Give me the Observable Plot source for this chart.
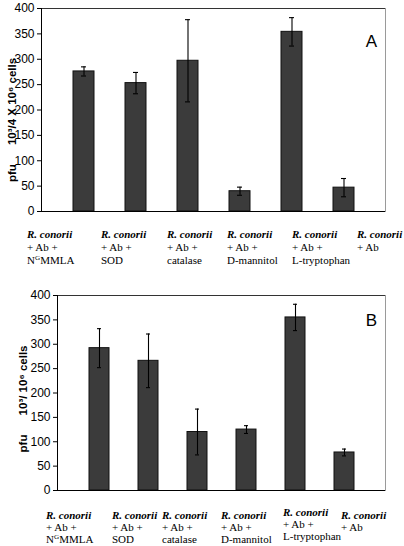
<!DOCTYPE html>
<html>
<head>
<meta charset="utf-8">
<script src="https://cdn.jsdelivr.net/npm/d3@7"></script>
<script src="https://cdn.jsdelivr.net/npm/@observablehq/plot@0.6"></script>
<style>
  html, body { margin: 0; padding: 0; background: #fff; }
  #root { width: 404px; position: relative; }
  .labels { position: relative; width: 404px; font-family: "Liberation Serif", "Times New Roman", serif; color: #000; }
  .lab { position: absolute; top: 0; white-space: nowrap; }
  .lab b { font-weight: bold; font-style: italic; }
  .lab sup { font-size: 0.65em; vertical-align: 0.55em; line-height: 0; }
  svg { display: block; }
</style>
</head>
<body>
<div id="root"></div>
<script>
// ---- data ----
const categories = ["NGMMLA", "SOD", "catalase", "D-mannitol", "L-tryptophan", "Ab only"];
const valuesA = [276, 253, 297, 40, 354, 47];
const errorsA = [9, 21, 81, 8, 28, 18];
const valuesB = [292, 266, 120, 125, 355, 78];
const errorsB = [40, 55, 47, 8, 27, 7];
const yTicks = [0, 50, 100, 150, 200, 250, 300, 350, 400];
const labelLine1 = "R. conorii";
const labelLine2 = ["+ Ab +", "+ Ab +", "+ Ab +", "+ Ab +", "+ Ab +", "+ Ab"];
const labelLine3 = ["N<sup>G</sup>MMLA", "SOD", "catalase", "D-mannitol", "L-tryptophan", ""];
const yLabelA = "pfu      10³/4 X 10⁶ cells";
const yLabelB = "pfu      10³/ 10⁶ cells";
const panelA = "A";
const panelB = "B";

// ---- layout (positions/styles only) ----
const panels = [
  {values: valuesA, errors: errorsA, ylab: yLabelA, tag: panelA, marginLeft: 41, marginTop: 8, height: 219,
   labDy: 10, labDx: -29, tagDy: 33, labelGap: 9, labelFont: 11, labelLH: 13, labelLeft: [27, 101, 167, 227, 292, 357], labelTop: [0,0,0,0,0,0]},
  {values: valuesB, errors: errorsB, ylab: yLabelB, tag: panelB, marginLeft: 57, marginTop: 15, height: 218,
   labDy: 6, labDx: -34, tagDy: 25, labelGap: 11, labelFont: 11, labelLH: 12, labelLeft: [46, 112, 162, 221, 283, 341], labelTop: [0,0,0,0,-3,0]}
];

const root = document.getElementById("root");

panels.forEach((p, idx) => {
  const rows = categories.map((c, i) => ({cat: c, v: p.values[i], lo: p.values[i] - p.errors[i], hi: p.values[i] + p.errors[i]}));
  const chart = Plot.plot({
    width: 404,
    height: p.height,
    marginLeft: p.marginLeft,
    marginRight: 19,
    marginTop: p.marginTop,
    marginBottom: 8,
    style: {fontFamily: "'Liberation Sans', Arial, sans-serif", background: "#fff"},
    x: {domain: categories, padding: 0.6, axis: null},
    y: {domain: [0, 400], axis: null},
    marks: [
      Plot.frame({stroke: "#9a9a9a"}),
      Plot.ruleY([400], {stroke: "#333"}),
      Plot.barY(rows, {x: "cat", y: "v", fill: "#3b3b3b", stroke: "#111", strokeWidth: 1}),
      Plot.ruleX(rows, {x: "cat", y1: "lo", y2: "hi", stroke: "#000", strokeWidth: 1.1}),
      Plot.tickY(rows, {x: "cat", y: "lo", stroke: "#000", strokeWidth: 1.1, insetLeft: 8, insetRight: 8}),
      Plot.tickY(rows, {x: "cat", y: "hi", stroke: "#000", strokeWidth: 1.1, insetLeft: 8, insetRight: 8}),
      Plot.axisY({ticks: yTicks, tickSize: 4, tickPadding: 3, fontSize: 12, label: null, tickFormat: d => String(d), stroke: "#000", fill: "#000"}),
      Plot.ruleY([0], {stroke: "#000", strokeWidth: 1}),
      Plot.frame({anchor: "left", stroke: "#000"}),
      Plot.text([p.ylab], {frameAnchor: "left", textAnchor: "middle", lineAnchor: "middle", rotate: -90, dx: p.labDx, dy: p.labDy, fontSize: 11.5, fontWeight: "bold", fill: "#000", text: d => d}),
      Plot.text([p.tag], {frameAnchor: "top-right", textAnchor: "middle", lineAnchor: "middle", dx: -14, dy: p.tagDy, fontSize: 17, fill: "#000", text: d => d})
    ]
  });
  root.appendChild(chart);

  const lab = document.createElement("div");
  lab.className = "labels";
  lab.style.marginTop = p.labelGap + "px";
  lab.style.height = (3 * p.labelLH) + "px";
  lab.style.fontSize = p.labelFont + "px";
  lab.style.lineHeight = p.labelLH + "px";
  categories.forEach((c, i) => {
    const s = document.createElement("div");
    s.className = "lab";
    s.style.left = p.labelLeft[i] + "px";
    s.style.top = p.labelTop[i] + "px";
    s.innerHTML = "<b>" + labelLine1 + "</b><br>" + labelLine2[i] + "<br>" + (labelLine3[i] || "&nbsp;");
    lab.appendChild(s);
  });
  root.appendChild(lab);
  if (idx === 0) {
    const gap = document.createElement("div");
    gap.style.height = "13px";
    root.appendChild(gap);
  }
});
</script>
</body>
</html>
